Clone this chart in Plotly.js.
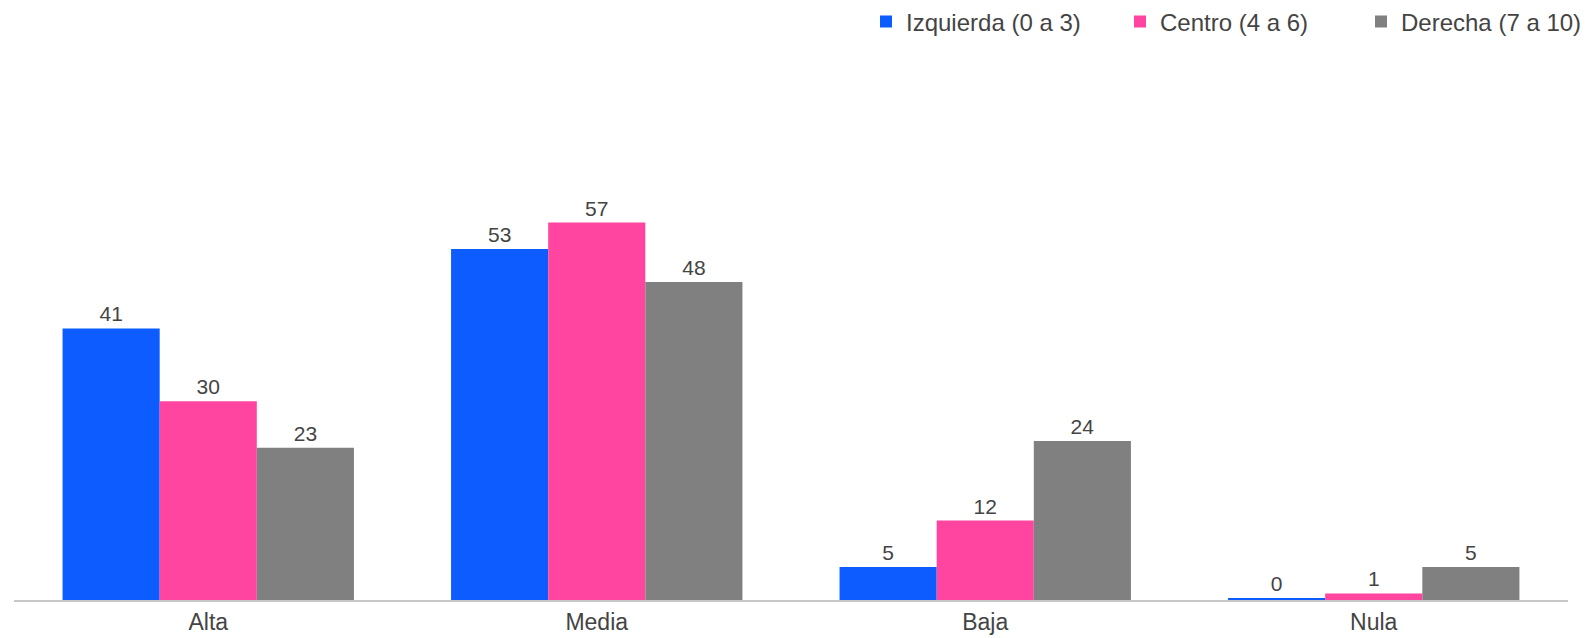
<!DOCTYPE html>
<html>
<head>
<meta charset="utf-8">
<script src="https://cdn.plot.ly/plotly-3.0.1.min.js"></script>
<style>html,body{margin:0;padding:0;background:#fff;}#chart{width:1591px;height:638px;}</style>
</head>
<body>
<div id="chart"></div>
<script>
const categories = ["Alta", "Media", "Baja", "Nula"];
const seriesNames = ["Izquierda (0 a 3)", "Centro (4 a 6)", "Derecha (7 a 10)"];
const izquierda = [41, 53, 5, 0.3];
const centro = [30, 57, 12, 1];
const derecha = [23, 48, 24, 5];
const colors = ["#0d5cff", "#ff45a0", "#808080"];

const seriesValues = [izquierda, centro, derecha];
const legendIds = ["legend", "legend2", "legend3"];
const traces = seriesValues.map((vals, i) => ({
  type: "bar",
  name: seriesNames[i],
  x: categories,
  y: vals,
  marker: {color: colors[i]},
  texttemplate: "%{y:.0f}",
  textposition: "outside",
  cliponaxis: false,
  textfont: {family: "Liberation Sans, Arial, sans-serif", size: 21, color: "#444"},
  hoverinfo: "x+y+name",
  legend: legendIds[i]
}));

const legendFont = {family: "Liberation Sans, Arial, sans-serif", size: 24, color: "#444"};
const legendBase = {orientation: "h", xref: "container", yref: "container", xanchor: "left", yanchor: "middle", y: 1 - 22/638, font: legendFont, bgcolor: "rgba(0,0,0,0)", borderwidth: 0};

const layout = {
  width: 1591,
  height: 638,
  margin: {l: 14, r: 23, t: 100, b: 38},
  paper_bgcolor: "#fff",
  plot_bgcolor: "#fff",
  bargap: 0.25,
  bargroupgap: 0,
  barmode: "group",
  showlegend: true,
  legend: Object.assign({}, legendBase, {x: 866/1591}),
  legend2: Object.assign({}, legendBase, {x: 1120/1591}),
  legend3: Object.assign({}, legendBase, {x: 1361/1591}),
  xaxis: {
    showline: true, linecolor: "#c8c8c8", linewidth: 2,
    showgrid: false, ticks: "", zeroline: false,
    tickfont: {family: "Liberation Sans, Arial, sans-serif", size: 23, color: "#444"}
  },
  yaxis: {
    visible: false, range: [0, 75.5], showgrid: false, zeroline: false
  }
};

Plotly.newPlot("chart", traces, layout, {displayModeBar: false, staticPlot: true});
</script>
</body>
</html>
